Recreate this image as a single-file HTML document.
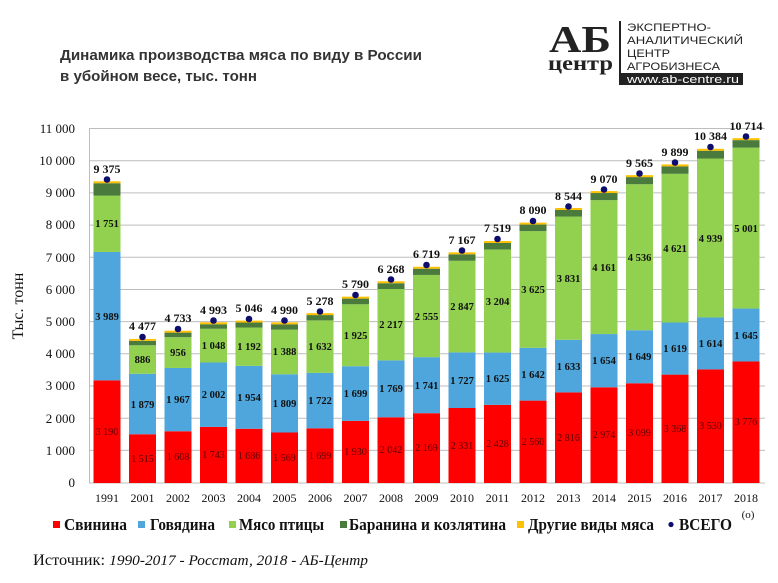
<!DOCTYPE html>
<html><head><meta charset="utf-8"><style>
html,body{margin:0;padding:0;background:#fff;}
svg{display:block;}
.ser{font-family:"Liberation Serif",serif;}
.san{font-family:"Liberation Sans",sans-serif;}
</style></head><body>
<svg width="778" height="583" viewBox="0 0 778 583" xmlns="http://www.w3.org/2000/svg">
<rect width="778" height="583" fill="#fff"/>
<!-- title -->
<text class="san" x="60" y="60" font-size="15" font-weight="bold" fill="#333" textLength="362" lengthAdjust="spacingAndGlyphs">Динамика производства мяса по виду в России</text>
<text class="san" x="60" y="81" font-size="15" font-weight="bold" fill="#333" textLength="197" lengthAdjust="spacingAndGlyphs">в убойном весе, тыс. тонн</text>
<!-- logo -->
<g>
<text class="ser" x="549" y="52" font-size="38" font-weight="bold" fill="#222" textLength="62" lengthAdjust="spacingAndGlyphs">АБ</text>
<text class="ser" x="548" y="70" font-size="20" font-weight="bold" fill="#222" textLength="65" lengthAdjust="spacingAndGlyphs">центр</text>
<rect x="619" y="21" width="2" height="64" fill="#222"/>
<text class="san" x="627" y="31" font-size="11" fill="#222" textLength="84" lengthAdjust="spacingAndGlyphs">ЭКСПЕРТНО-</text>
<text class="san" x="627" y="44" font-size="11" fill="#222" textLength="116" lengthAdjust="spacingAndGlyphs">АНАЛИТИЧЕСКИЙ</text>
<text class="san" x="627" y="57" font-size="11" fill="#222" textLength="43" lengthAdjust="spacingAndGlyphs">ЦЕНТР</text>
<text class="san" x="627" y="70" font-size="11" fill="#222" textLength="93" lengthAdjust="spacingAndGlyphs">АГРОБИЗНЕСА</text>
<rect x="621" y="73" width="122" height="12" fill="#222"/>
<text class="san" x="627" y="83" font-size="11" fill="#fff" textLength="112" lengthAdjust="spacingAndGlyphs">www.ab-centre.ru</text>
</g>
<!-- gridlines -->
<g stroke="#bdbdbd" stroke-width="1">
<line x1="89" x2="765" y1="128.5" y2="128.5"/>
<line x1="89" x2="765" y1="160.7" y2="160.7"/>
<line x1="89" x2="765" y1="192.9" y2="192.9"/>
<line x1="89" x2="765" y1="225.1" y2="225.1"/>
<line x1="89" x2="765" y1="257.3" y2="257.3"/>
<line x1="89" x2="765" y1="289.5" y2="289.5"/>
<line x1="89" x2="765" y1="321.6" y2="321.6"/>
<line x1="89" x2="765" y1="353.8" y2="353.8"/>
<line x1="89" x2="765" y1="386.0" y2="386.0"/>
<line x1="89" x2="765" y1="418.2" y2="418.2"/>
<line x1="89" x2="765" y1="450.4" y2="450.4"/>
<line x1="89" x2="765" y1="483" y2="483"/>
<line x1="89.5" x2="89.5" y1="128" y2="483"/>
</g>
<!-- y labels -->
<g class="ser" font-size="13" fill="#111" text-anchor="end">
<text x="75" y="133">11 000</text><text x="75" y="165">10 000</text><text x="75" y="197">9 000</text>
<text x="75" y="229">8 000</text><text x="75" y="262">7 000</text><text x="75" y="294">6 000</text>
<text x="75" y="326">5 000</text><text x="75" y="358">4 000</text><text x="75" y="390">3 000</text>
<text x="75" y="423">2 000</text><text x="75" y="455">1 000</text><text x="75" y="487">0</text>
</g>
<text class="ser" font-size="16" fill="#111" transform="translate(23,306) rotate(-90)" text-anchor="middle">Тыс. тонн</text>
<!-- bars -->
<g transform="translate(0,483) scale(1,-0.032182)">
<g fill="#ff0000">
<rect x="93.5" y="0" width="27" height="3190"/><rect x="129" y="0" width="27" height="1515"/><rect x="164.5" y="0" width="27" height="1608"/><rect x="200" y="0" width="27" height="1743"/><rect x="235.5" y="0" width="27" height="1686"/><rect x="271" y="0" width="27" height="1569"/><rect x="306.5" y="0" width="27" height="1699"/><rect x="342" y="0" width="27" height="1930"/><rect x="377.5" y="0" width="27" height="2042"/><rect x="413" y="0" width="27" height="2169"/><rect x="448.5" y="0" width="27" height="2331"/><rect x="484" y="0" width="27" height="2428"/><rect x="519.5" y="0" width="27" height="2560"/><rect x="555" y="0" width="27" height="2816"/><rect x="590.5" y="0" width="27" height="2974"/><rect x="626" y="0" width="27" height="3099"/><rect x="661.5" y="0" width="27" height="3368"/><rect x="697" y="0" width="27" height="3530"/><rect x="732.5" y="0" width="27" height="3776"/>
</g>
<g fill="#4ea6dc">
<rect x="93.5" y="3190" width="27" height="3989"/><rect x="129" y="1515" width="27" height="1879"/><rect x="164.5" y="1608" width="27" height="1967"/><rect x="200" y="1743" width="27" height="2002"/><rect x="235.5" y="1686" width="27" height="1954"/><rect x="271" y="1569" width="27" height="1809"/><rect x="306.5" y="1699" width="27" height="1722"/><rect x="342" y="1930" width="27" height="1699"/><rect x="377.5" y="2042" width="27" height="1769"/><rect x="413" y="2169" width="27" height="1741"/><rect x="448.5" y="2331" width="27" height="1727"/><rect x="484" y="2428" width="27" height="1625"/><rect x="519.5" y="2560" width="27" height="1642"/><rect x="555" y="2816" width="27" height="1633"/><rect x="590.5" y="2974" width="27" height="1654"/><rect x="626" y="3099" width="27" height="1649"/><rect x="661.5" y="3368" width="27" height="1619"/><rect x="697" y="3530" width="27" height="1614"/><rect x="732.5" y="3776" width="27" height="1645"/>
</g>
<g fill="#92d050">
<rect x="93.5" y="7179" width="27" height="1751"/><rect x="129" y="3394" width="27" height="886"/><rect x="164.5" y="3575" width="27" height="956"/><rect x="200" y="3745" width="27" height="1048"/><rect x="235.5" y="3640" width="27" height="1192"/><rect x="271" y="3378" width="27" height="1388"/><rect x="306.5" y="3421" width="27" height="1632"/><rect x="342" y="3629" width="27" height="1925"/><rect x="377.5" y="3811" width="27" height="2217"/><rect x="413" y="3910" width="27" height="2555"/><rect x="448.5" y="4058" width="27" height="2847"/><rect x="484" y="4053" width="27" height="3204"/><rect x="519.5" y="4202" width="27" height="3625"/><rect x="555" y="4449" width="27" height="3831"/><rect x="590.5" y="4628" width="27" height="4161"/><rect x="626" y="4748" width="27" height="4536"/><rect x="661.5" y="4987" width="27" height="4621"/><rect x="697" y="5144" width="27" height="4939"/><rect x="732.5" y="5421" width="27" height="5001"/>
</g>
<g fill="#4a7a3c">
<rect x="93.5" y="8930" width="27" height="385"/><rect x="129" y="4280" width="27" height="137"/><rect x="164.5" y="4531" width="27" height="142"/><rect x="200" y="4793" width="27" height="140"/><rect x="235.5" y="4832" width="27" height="154"/><rect x="271" y="4766" width="27" height="164"/><rect x="306.5" y="5053" width="27" height="165"/><rect x="342" y="5554" width="27" height="176"/><rect x="377.5" y="6028" width="27" height="180"/><rect x="413" y="6465" width="27" height="194"/><rect x="448.5" y="6905" width="27" height="202"/><rect x="484" y="7257" width="27" height="202"/><rect x="519.5" y="7827" width="27" height="203"/><rect x="555" y="8280" width="27" height="204"/><rect x="590.5" y="8789" width="27" height="221"/><rect x="626" y="9284" width="27" height="221"/><rect x="661.5" y="9608" width="27" height="231"/><rect x="697" y="10083" width="27" height="241"/><rect x="732.5" y="10422" width="27" height="232"/>
</g>
<g fill="#ffc000">
<rect x="93.5" y="9315" width="27" height="60"/><rect x="129" y="4417" width="27" height="60"/><rect x="164.5" y="4673" width="27" height="60"/><rect x="200" y="4933" width="27" height="60"/><rect x="235.5" y="4986" width="27" height="60"/><rect x="271" y="4930" width="27" height="60"/><rect x="306.5" y="5218" width="27" height="60"/><rect x="342" y="5730" width="27" height="60"/><rect x="377.5" y="6208" width="27" height="60"/><rect x="413" y="6659" width="27" height="60"/><rect x="448.5" y="7107" width="27" height="60"/><rect x="484" y="7459" width="27" height="60"/><rect x="519.5" y="8030" width="27" height="60"/><rect x="555" y="8484" width="27" height="60"/><rect x="590.5" y="9010" width="27" height="60"/><rect x="626" y="9505" width="27" height="60"/><rect x="661.5" y="9839" width="27" height="60"/><rect x="697" y="10324" width="27" height="60"/><rect x="732.5" y="10654" width="27" height="60"/>
</g>
</g>
<!-- dots -->
<g fill="#0d0d6e">
<circle cx="107" cy="179.5" r="3.3"/><circle cx="142.5" cy="337" r="3.3"/><circle cx="178" cy="329" r="3.3"/><circle cx="213.5" cy="320.5" r="3.3"/><circle cx="249" cy="319" r="3.3"/><circle cx="284.5" cy="320.5" r="3.3"/><circle cx="320" cy="311.5" r="3.3"/><circle cx="355.5" cy="295" r="3.3"/><circle cx="391" cy="279.5" r="3.3"/><circle cx="426.5" cy="265" r="3.3"/><circle cx="462" cy="250.5" r="3.3"/><circle cx="497.5" cy="239" r="3.3"/><circle cx="533" cy="221" r="3.3"/><circle cx="568.5" cy="206.5" r="3.3"/><circle cx="604" cy="189.5" r="3.3"/><circle cx="639.5" cy="173.5" r="3.3"/><circle cx="675" cy="162.5" r="3.3"/><circle cx="710.5" cy="147" r="3.3"/><circle cx="746" cy="136.5" r="3.3"/>
</g>
<!-- totals -->
<g class="ser" font-size="12" font-weight="bold" fill="#111" text-anchor="middle">
<text x="107" y="173">9 375</text><text x="142.5" y="330">4 477</text><text x="178" y="322">4 733</text><text x="213.5" y="314">4 993</text><text x="249" y="312">5 046</text><text x="284.5" y="314">4 990</text><text x="320" y="305">5 278</text><text x="355.5" y="288">5 790</text><text x="391" y="273">6 268</text><text x="426.5" y="258">6 719</text><text x="462" y="244">7 167</text><text x="497.5" y="232">7 519</text><text x="533" y="214">8 090</text><text x="568.5" y="200">8 544</text><text x="604" y="183">9 070</text><text x="639.5" y="167">9 565</text><text x="675" y="156">9 899</text><text x="710.5" y="140">10 384</text><text x="746" y="130">10 714</text>
</g>
<!-- pork labels -->
<g class="ser" font-size="10" fill="#5a0000" text-anchor="middle">
<text x="107" y="435">3 190</text><text x="142.5" y="462">1 515</text><text x="178" y="460">1 608</text><text x="213.5" y="458">1 743</text><text x="249" y="459">1 686</text><text x="284.5" y="461">1 569</text><text x="320" y="459">1 699</text><text x="355.5" y="455">1 930</text><text x="391" y="453">2 042</text><text x="426.5" y="451">2 169</text><text x="462" y="449">2 331</text><text x="497.5" y="447">2 428</text><text x="533" y="445">2 560</text><text x="568.5" y="441">2 816</text><text x="604" y="438">2 974</text><text x="639.5" y="436">3 099</text><text x="675" y="432">3 368</text><text x="710.5" y="429">3 530</text><text x="746" y="425">3 776</text>
</g>
<!-- beef labels -->
<g class="ser" font-size="10.5" font-weight="bold" fill="#111" text-anchor="middle">
<text x="107" y="320">3 989</text><text x="142.5" y="408">1 879</text><text x="178" y="403">1 967</text><text x="213.5" y="398">2 002</text><text x="249" y="401">1 954</text><text x="284.5" y="407">1 809</text><text x="320" y="404">1 722</text><text x="355.5" y="397">1 699</text><text x="391" y="392">1 769</text><text x="426.5" y="389">1 741</text><text x="462" y="384">1 727</text><text x="497.5" y="382">1 625</text><text x="533" y="378">1 642</text><text x="568.5" y="370">1 633</text><text x="604" y="364">1 654</text><text x="639.5" y="360">1 649</text><text x="675" y="352">1 619</text><text x="710.5" y="347">1 614</text><text x="746" y="339">1 645</text>
</g>
<!-- poultry labels -->
<g class="ser" font-size="10.5" font-weight="bold" fill="#111" text-anchor="middle">
<text x="107" y="227">1 751</text><text x="142.5" y="363">886</text><text x="178" y="356">956</text><text x="213.5" y="349">1 048</text><text x="249" y="350">1 192</text><text x="284.5" y="355">1 388</text><text x="320" y="350">1 632</text><text x="355.5" y="339">1 925</text><text x="391" y="328">2 217</text><text x="426.5" y="320">2 555</text><text x="462" y="310">2 847</text><text x="497.5" y="305">3 204</text><text x="533" y="293">3 625</text><text x="568.5" y="282">3 831</text><text x="604" y="271">4 161</text><text x="639.5" y="261">4 536</text><text x="675" y="252">4 621</text><text x="710.5" y="242">4 939</text><text x="746" y="232">5 001</text>
</g>
<!-- x labels -->
<g class="ser" font-size="12" fill="#111" text-anchor="middle">
<text x="107" y="502">1991</text><text x="142.5" y="502">2001</text><text x="178" y="502">2002</text><text x="213.5" y="502">2003</text><text x="249" y="502">2004</text><text x="284.5" y="502">2005</text><text x="320" y="502">2006</text><text x="355.5" y="502">2007</text><text x="391" y="502">2008</text><text x="426.5" y="502">2009</text><text x="462" y="502">2010</text><text x="497.5" y="502">2011</text><text x="533" y="502">2012</text><text x="568.5" y="502">2013</text><text x="604" y="502">2014</text><text x="639.5" y="502">2015</text><text x="675" y="502">2016</text><text x="710.5" y="502">2017</text><text x="746" y="502">2018</text>
<text x="748" y="518" font-size="11">(o)</text>
</g>
<!-- legend -->
<g class="ser" font-size="17" font-weight="bold" fill="#111">
<rect x="53" y="521" width="7" height="7" fill="#ff0000"/><text x="64" y="530" textLength="63" lengthAdjust="spacingAndGlyphs">Свинина</text>
<rect x="138" y="521" width="7" height="7" fill="#4ea6dc"/><text x="150" y="530" textLength="65" lengthAdjust="spacingAndGlyphs">Говядина</text>
<rect x="229" y="521" width="7" height="7" fill="#92d050"/><text x="239" y="530" textLength="85" lengthAdjust="spacingAndGlyphs">Мясо птицы</text>
<rect x="340" y="521" width="7" height="7" fill="#4a7a3c"/><text x="349" y="530" textLength="157" lengthAdjust="spacingAndGlyphs">Баранина и козлятина</text>
<rect x="517" y="521" width="7" height="7" fill="#ffc000"/><text x="528" y="530" textLength="126" lengthAdjust="spacingAndGlyphs">Другие виды мяса</text>
<circle cx="671" cy="524.5" r="2.6" fill="#0d0d6e"/><text x="679" y="530" textLength="53" lengthAdjust="spacingAndGlyphs">ВСЕГО</text>
</g>
<!-- source -->
<text class="ser" x="33" y="565" font-size="16" fill="#111" textLength="335" lengthAdjust="spacingAndGlyphs">Источник: <tspan font-style="italic" font-size="15">1990-2017 - Росстат, 2018 - АБ-Центр</tspan></text>
</svg>
</body></html>
